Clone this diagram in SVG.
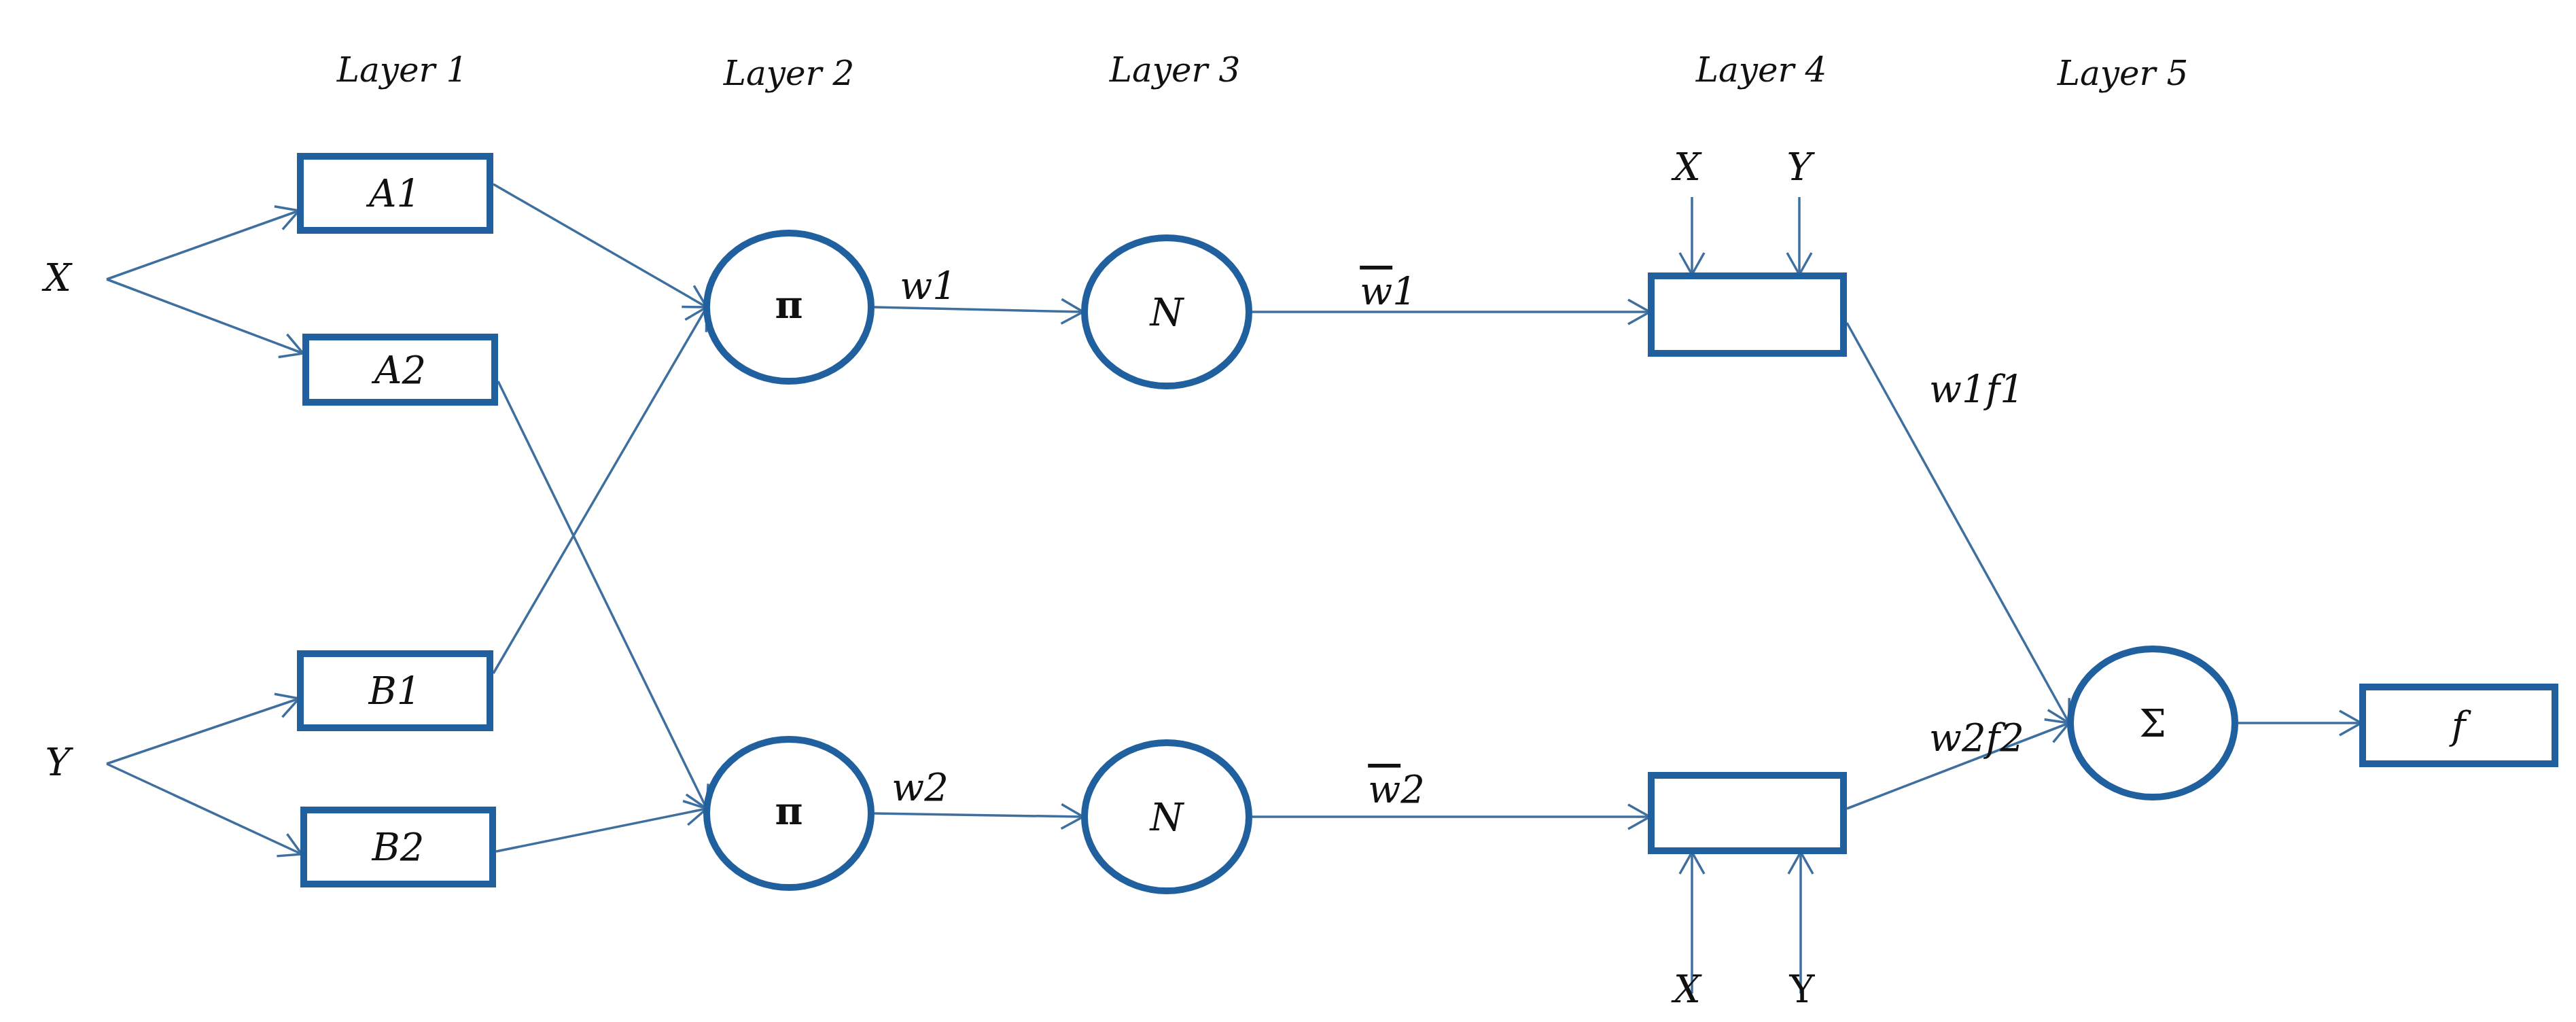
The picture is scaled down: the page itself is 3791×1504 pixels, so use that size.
<svg xmlns="http://www.w3.org/2000/svg" width="3791" height="1504" viewBox="0 0 3791 1504">
<style>
.box{fill:#fff;stroke:#21609e;stroke-width:10}
.ell{fill:#fff;stroke:#21609e;stroke-width:10}
.ln{fill:none;stroke:#3f6f9f;stroke-width:3.5;marker-end:url(#ah)}
text{font-family:"DejaVu Serif","Liberation Serif",serif;font-style:italic;fill:#111;text-anchor:middle}
.lay{font-size:50px}
.lab{font-size:56px}
.up{font-style:normal;font-weight:bold}
</style>
<defs>
<marker id="ah" markerUnits="userSpaceOnUse" markerWidth="60" markerHeight="60" refX="36" refY="20" orient="auto">
<polyline points="4,2 36,20 4,38" fill="none" stroke="#3f6f9f" stroke-width="3.5"/>
</marker>
</defs>
<rect width="3791" height="1504" fill="#fff"/>
<g id="titles">
<text class="lay" x="592" y="120">Layer 1</text>
<text class="lay" x="1161" y="125">Layer 2</text>
<text class="lay" x="1729" y="120">Layer 3</text>
<text class="lay" x="2592" y="120">Layer 4</text>
<text class="lay" x="3124" y="125">Layer 5</text>
</g>
<g id="connectors">
<line class="ln" x1="157" y1="411" x2="440" y2="310"/>
<line class="ln" x1="157" y1="411" x2="446" y2="520"/>
<line class="ln" x1="157" y1="1124" x2="440" y2="1028"/>
<line class="ln" x1="157" y1="1124" x2="444" y2="1257"/>
<line class="ln" x1="726" y1="271" x2="1040" y2="452"/>
<line class="ln" x1="733" y1="561" x2="1040" y2="1190"/>
<line class="ln" x1="726" y1="991" x2="1040" y2="452"/>
<line class="ln" x1="730" y1="1253" x2="1040" y2="1190"/>
<line class="ln" x1="1287" y1="452" x2="1594" y2="459"/>
<line class="ln" x1="1287" y1="1197" x2="1594" y2="1202"/>
<line class="ln" x1="1843" y1="459" x2="2428" y2="459"/>
<line class="ln" x1="1843" y1="1202" x2="2428" y2="1202"/>
<line class="ln" x1="2490" y1="290" x2="2490" y2="404"/>
<line class="ln" x1="2648" y1="290" x2="2648" y2="404"/>
<line class="ln" x1="2490" y1="1462" x2="2490" y2="1254"/>
<line class="ln" x1="2650" y1="1462" x2="2650" y2="1254"/>
<line class="ln" x1="2718" y1="475" x2="3045" y2="1064"/>
<line class="ln" x1="2718" y1="1190" x2="3045" y2="1064"/>
<line class="ln" x1="3294" y1="1064" x2="3475" y2="1064"/>
</g>
<g id="inX"><text class="lab" x="85" y="428">X</text></g>
<g id="inY"><text class="lab" x="85" y="1141">Y</text></g>
<g id="A1"><rect class="box" x="442" y="230" width="279" height="109"/><text class="lab" x="581" y="304">A1</text></g>
<g id="A2"><rect class="box" x="450" y="496" width="278" height="96"/><text class="lab" x="589" y="564">A2</text></g>
<g id="B1"><rect class="box" x="442" y="962" width="279" height="109"/><text class="lab" x="581" y="1036">B1</text></g>
<g id="B2"><rect class="box" x="447" y="1192" width="278" height="109"/><text class="lab" x="586" y="1266">B2</text></g>
<g id="P1"><ellipse class="ell" cx="1161" cy="452" rx="121" ry="109"/><text class="lab up" x="1161" y="468">π</text></g>
<g id="P2"><ellipse class="ell" cx="1161" cy="1197" rx="121" ry="109"/><text class="lab up" x="1161" y="1213">π</text></g>
<g id="N1"><ellipse class="ell" cx="1717" cy="459" rx="121" ry="109"/><text class="lab" x="1717" y="479">N</text></g>
<g id="N2"><ellipse class="ell" cx="1717" cy="1202" rx="121" ry="109"/><text class="lab" x="1717" y="1222">N</text></g>
<g id="R1"><rect class="box" x="2430" y="406" width="283" height="114"/></g>
<g id="R2"><rect class="box" x="2430" y="1141" width="283" height="111"/></g>
<g id="S"><ellipse class="ell" cx="3168" cy="1064" rx="121" ry="109"/><text class="lab" style="font-style:normal" x="3168" y="1084">Σ</text></g>
<g id="F"><rect class="box" x="3477" y="1011" width="283" height="113"/><text class="lab" x="3618" y="1087">f</text></g>
<g id="labels">
<text class="lab" x="1366" y="440">w1</text>
<text class="lab" x="1354" y="1178">w2</text>
<text class="lab" x="2043" y="448"><tspan text-decoration="overline">w</tspan>1</text>
<text class="lab" x="2055" y="1181"><tspan text-decoration="overline">w</tspan>2</text>
<text class="lab" x="2909" y="592">w1f1</text>
<text class="lab" x="2909" y="1105">w2f2</text>
<text class="lab" x="2483" y="265">X</text>
<text class="lab" x="2648" y="265">Y</text>
<text class="lab" x="2483" y="1475">X</text>
<text class="lab" style="font-style:normal" x="2652" y="1475">Y</text>
</g>
</svg>
